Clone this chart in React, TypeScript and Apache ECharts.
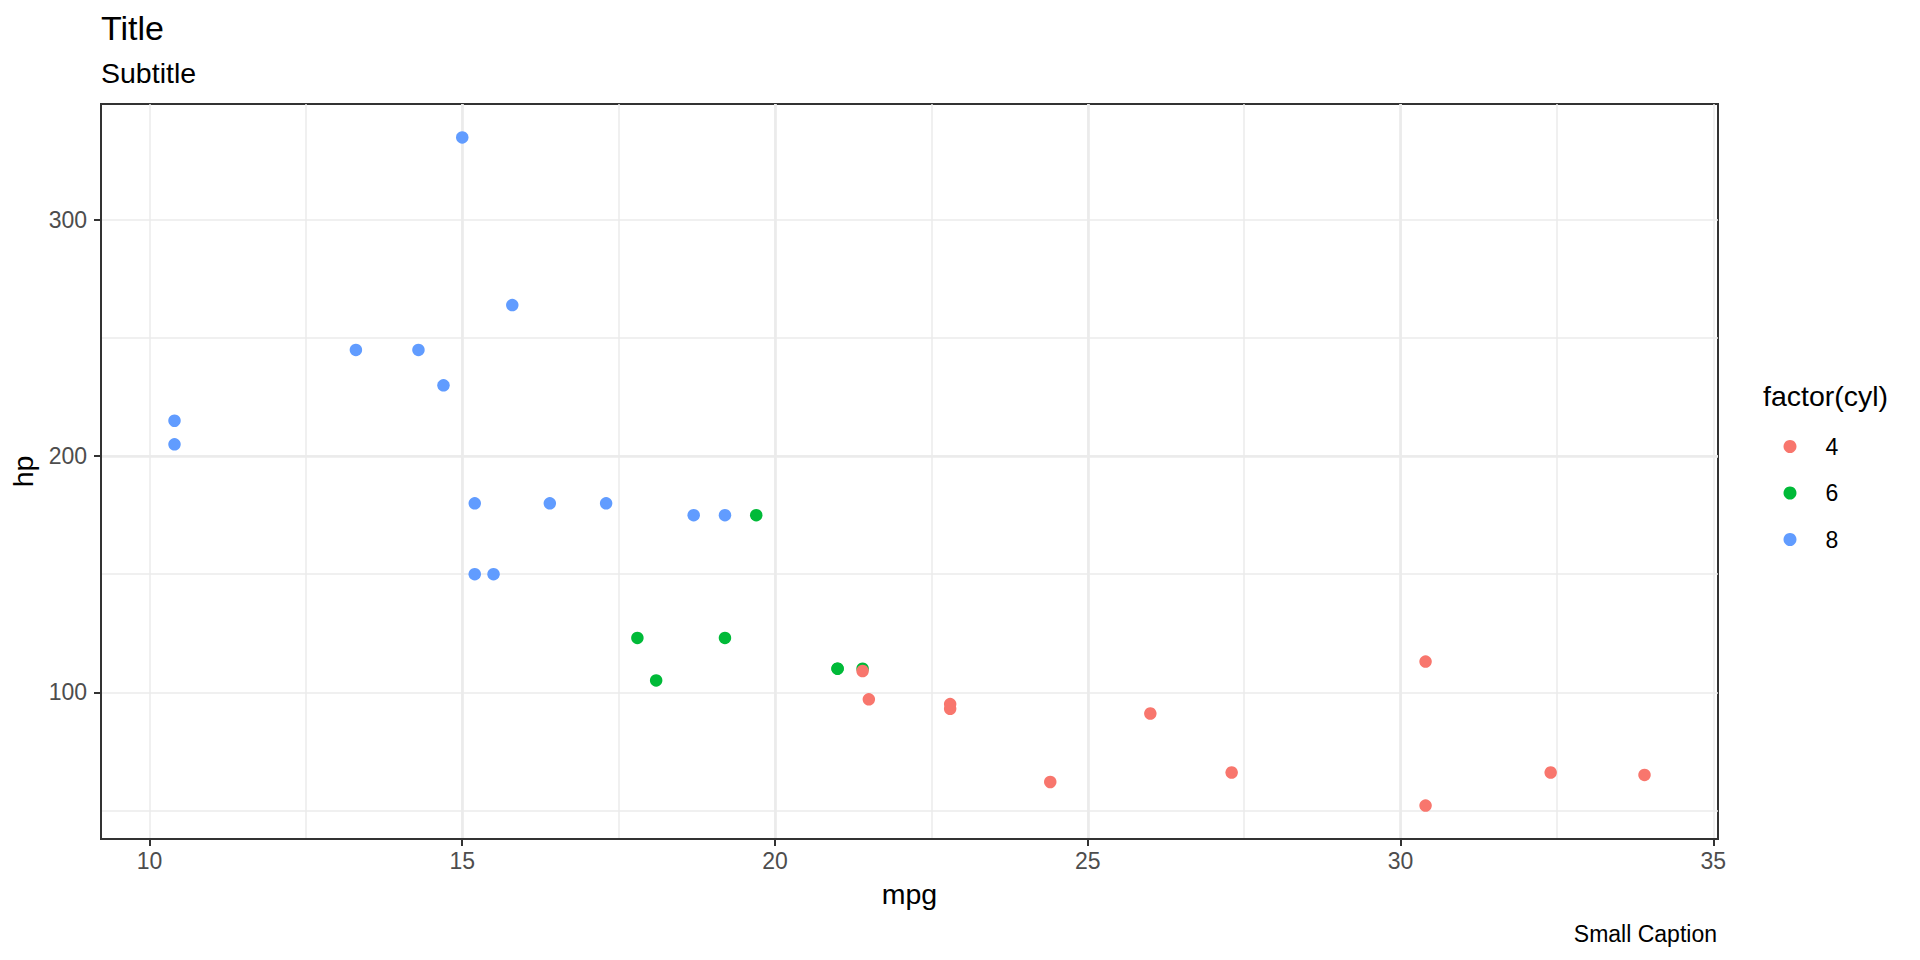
import React, { useEffect, useRef } from "react";
import * as echarts from "echarts";

const FONT = "'Liberation Sans', Arial, Helvetica, sans-serif";

// mtcars: mpg vs hp by cylinder count
const cylGroups = ["4", "6", "8"];
const mpg4 = [22.8, 24.4, 22.8, 32.4, 30.4, 33.9, 21.5, 27.3, 26.0, 30.4, 21.4];
const hp4 = [93, 62, 95, 66, 52, 65, 97, 66, 91, 113, 109];
const mpg6 = [21.0, 21.0, 21.4, 18.1, 19.2, 17.8, 19.7];
const hp6 = [110, 110, 110, 105, 123, 123, 175];
const mpg8 = [18.7, 14.3, 16.4, 17.3, 15.2, 10.4, 10.4, 14.7, 15.5, 15.2, 13.3, 19.2, 15.8, 15.0];
const hp8 = [175, 245, 180, 180, 180, 205, 215, 230, 150, 150, 245, 175, 264, 335];

const xTicks = [10, 15, 20, 25, 30, 35];
const yTicks = [100, 200, 300];
const xMin = 9.225;
const xMax = 35.075;
const yMin = 37.85;
const yMax = 349.15;

const COLORS: Record<string, string> = { "4": "#F8766D", "6": "#00BA38", "8": "#619CFF" };

const pairs = (xs: number[], ys: number[]) => xs.map((x, i) => [x, ys[i]]);

export default function App() {
  const ref = useRef<HTMLDivElement>(null);
  useEffect(() => {
    if (!ref.current) return;
    const chart = echarts.init(ref.current, undefined, { renderer: "svg" });
    const tickLabel = { fontSize: 23, color: "#4D4D4D", fontFamily: FONT };
    const nameStyle = { fontSize: 28.5, color: "#000000", fontFamily: FONT };
    const majorLine = { color: "#EBEBEB", width: 2.7 };
    const minorLine = { color: "#EBEBEB", width: 1.5 };
    const seriesData: Record<string, number[][]> = {
      "4": pairs(mpg4, hp4),
      "6": pairs(mpg6, hp6),
      "8": pairs(mpg8, hp8),
    };
    const order = ["8", "6", "4"];
    chart.setOption({
      animation: false,
      backgroundColor: "#FFFFFF",
      grid: {
        left: 101,
        top: 104,
        width: 1617,
        height: 735,
        show: true,
        borderColor: "#333333",
        borderWidth: 2,
        backgroundColor: "#FFFFFF",
        containLabel: false,
      },
      xAxis: [
        {
          type: "value",
          min: xMin,
          max: xMax,
          minInterval: 5,
          maxInterval: 5,
          axisLine: { show: true, lineStyle: { color: "#333333", width: 2 } },
          axisTick: { show: true, length: 7, lineStyle: { color: "#333333", width: 2 }, customValues: xTicks },
          axisLabel: { ...tickLabel, margin: 10, customValues: xTicks },
          splitLine: { show: true, showMinLine: false, showMaxLine: false, lineStyle: majorLine },
          name: "mpg",
          nameLocation: "middle",
          nameGap: 40,
          nameTextStyle: nameStyle,
          z: 1,
        },
        {
          type: "value",
          min: xMin,
          max: xMax,
          minInterval: 2.5,
          maxInterval: 2.5,
          position: "bottom",
          axisLine: { show: false },
          axisTick: { show: false },
          axisLabel: { show: false },
          splitLine: { show: true, showMinLine: false, showMaxLine: false, lineStyle: minorLine },
          z: 0,
        },
      ],
      yAxis: [
        {
          type: "value",
          min: yMin,
          max: yMax,
          minInterval: 100,
          maxInterval: 100,
          axisLine: { show: true, lineStyle: { color: "#333333", width: 2 } },
          axisTick: { show: true, length: 7, lineStyle: { color: "#333333", width: 2 }, customValues: yTicks },
          axisLabel: { ...tickLabel, margin: 14, customValues: yTicks },
          splitLine: { show: true, showMinLine: false, showMaxLine: false, lineStyle: majorLine },
          name: "hp",
          nameLocation: "middle",
          nameGap: 60,
          nameTextStyle: nameStyle,
          z: 1,
        },
        {
          type: "value",
          min: yMin,
          max: yMax,
          minInterval: 50,
          maxInterval: 50,
          position: "left",
          axisLine: { show: false },
          axisTick: { show: false },
          axisLabel: { show: false },
          splitLine: { show: true, showMinLine: false, showMaxLine: false, lineStyle: minorLine },
          z: 0,
        },
      ],
      legend: {
        orient: "vertical",
        left: 1778.5,
        top: 430,
        itemWidth: 13,
        itemHeight: 13,
        itemGap: 23.5,
        icon: "circle",
        selectedMode: false,
        data: cylGroups,
        textStyle: { fontSize: 23, color: "#000000", fontFamily: FONT, padding: [0, 0, 0, 24], lineHeight: 13 },
      },
      series: order.map((g) => ({
        name: g,
        type: "scatter",
        xAxisIndex: 0,
        yAxisIndex: 0,
        symbol: "circle",
        symbolSize: 12.5,
        itemStyle: { color: COLORS[g], opacity: 1 },
        data: seriesData[g],
        z: 3,
      })),
      graphic: [
        {
          type: "text",
          x: 101,
          y: 27.5,
          style: { text: "Title", fontSize: 34, fontFamily: FONT, fill: "#000000", align: "left", verticalAlign: "middle" },
        },
        {
          type: "text",
          x: 101,
          y: 73,
          style: { text: "Subtitle", fontSize: 28.5, fontFamily: FONT, fill: "#000000", align: "left", verticalAlign: "middle" },
        },
        {
          type: "text",
          x: 1763,
          y: 396,
          style: { text: "factor(cyl)", fontSize: 28.5, fontFamily: FONT, fill: "#000000", align: "left", verticalAlign: "middle" },
        },
        {
          type: "text",
          x: 1717,
          y: 933.5,
          style: { text: "Small Caption", fontSize: 23, fontFamily: FONT, fill: "#000000", align: "right", verticalAlign: "middle" },
        },
      ],
    });
    return () => chart.dispose();
  }, []);
  return <div ref={ref} style={{ position: "fixed", left: 0, top: 0, width: 1920, height: 960 }} />;
}
